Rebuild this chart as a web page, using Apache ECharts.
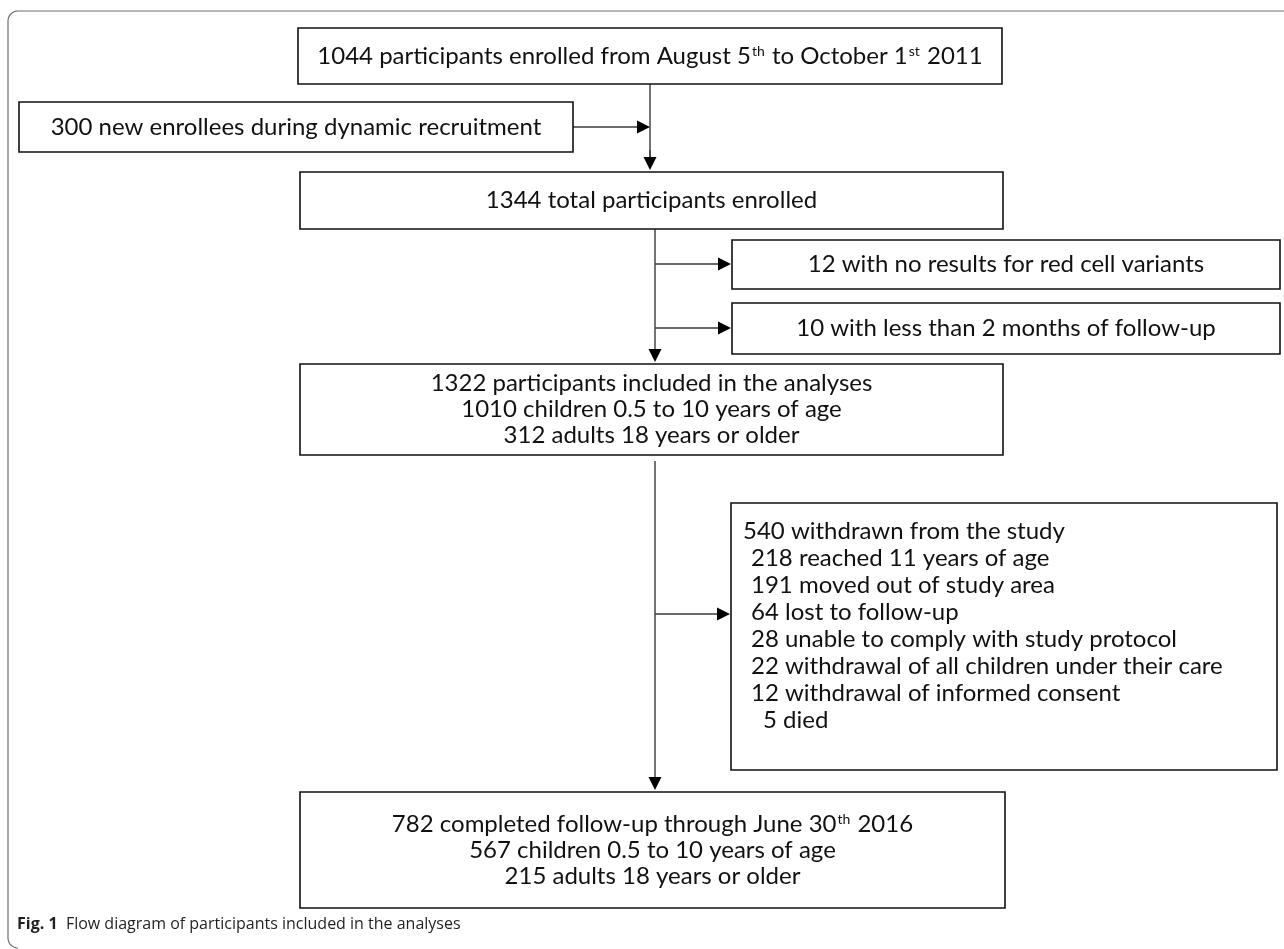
<!DOCTYPE html>
<html>
<head>
<meta charset="utf-8">
<script src="https://cdn.jsdelivr.net/npm/echarts@6/dist/echarts.min.js"></script>
<style>
  html, body { margin: 0; padding: 0; background: #fff; }
  #chart { width: 1284px; height: 949px; }
</style>
</head>
<body>
<div id="chart"></div>
<script>
// ---- texts of the flow diagram ----
var enrolledText = '1044 participants enrolled from August 5{sup|th} to October 1{sup|st} 2011';
var recruitText = '300 new enrollees during dynamic recruitment';
var totalText = '1344 total participants enrolled';
var excludedTexts = [
    '12 with no results for red cell variants',
    '10 with less than 2 months of follow-up'
];
var analysedTexts = [
    '1322 participants included in the analyses',
    '1010 children 0.5 to 10 years of age',
    '312 adults 18 years or older'
];
var withdrawnTexts = [
    '540 withdrawn from the study',
    '218 reached 11 years of age',
    '191 moved out of study area',
    '64 lost to follow-up',
    '28 unable to comply with study protocol',
    '22 withdrawal of all children under their care',
    '12 withdrawal of informed consent',
    '5 died'
];
var completedTexts = [
    '782 completed follow-up through June 30{sup|th} 2016',
    '567 children 0.5 to 10 years of age',
    '215 adults 18 years or older'
];
var captionLabel = 'Fig. 1';
var captionText = 'Flow diagram of participants included in the analyses';

(function() {
    var chart = echarts.init(document.getElementById('chart'), null, { renderer: 'canvas' });

    var FONT = 'Lato, "Open Sans", sans-serif';
    var INK = '#111';
    var LINE = '#3a3a3a';
    var FS = 24;
    var LH = 26;

    // box geometry [x, y, w, h]
    var rect = {
        enrolled: [298, 28, 704, 56],
        recruit: [19, 102, 554, 50],
        total: [300, 172, 703, 57],
        excl1: [732, 240, 548, 49],
        excl2: [732, 303, 548, 51],
        analysed: [300, 364, 703, 91],
        withdrawn: [731, 503, 546, 267],
        completed: [300, 792, 705, 116]
    };
    var withdrawnIndent = [0, 8, 8, 8, 8, 8, 8, 20];

    var els = [];
    var sup = { sup: { fontSize: 14, fontFamily: FONT, fill: INK, verticalAlign: 'top', padding: [0, 1, 10, 1] } };

    function box(r) {
        els.push({
            type: 'rect',
            shape: { x: r[0], y: r[1], width: r[2], height: r[3] },
            style: { fill: '#fff', stroke: INK, lineWidth: 1.6 },
            z: 2
        });
    }
    function centered(r, lines) {
        var cx = r[0] + r[2] / 2, cy = r[1] + r[3] / 2;
        var y0 = cy - (lines.length - 1) * LH / 2;
        lines.forEach(function(t, i) {
            els.push({
                type: 'text', x: cx, y: y0 + i * LH, z: 3,
                style: {
                    text: t, rich: sup, fontSize: FS, fontFamily: FONT, fill: INK,
                    align: 'center', verticalAlign: 'middle'
                }
            });
        });
    }
    function arrow(x1, y1, x2, y2) {
        var dx = x2 - x1, dy = y2 - y1, len = Math.sqrt(dx * dx + dy * dy);
        var ux = dx / len, uy = dy / len, hl = 13, hw = 6.5;
        var bx = x2 - ux * hl, by = y2 - uy * hl;
        els.push({
            type: 'line', z: 1,
            shape: { x1: x1, y1: y1, x2: bx, y2: by },
            style: { stroke: LINE, lineWidth: 1.4 }
        });
        els.push({
            type: 'polygon', z: 1,
            shape: { points: [[x2, y2], [bx - uy * hw, by + ux * hw], [bx + uy * hw, by - ux * hw]] },
            style: { fill: '#000' }
        });
    }

    // outer frame: top and left edges with rounded corners
    var fx = 8, fTop = 11, fBot = 948, fr = 10, framePts = [[1284, fTop]];
    for (var k = 0; k <= 8; k++) {
        var a = -Math.PI / 2 - k * Math.PI / 16;
        framePts.push([fx + fr + fr * Math.cos(a), fTop + fr + fr * Math.sin(a)]);
    }
    for (k = 0; k <= 8; k++) {
        var b = Math.PI + k * Math.PI / 16;
        framePts.push([fx + fr + fr * Math.cos(b), fBot - fr - fr * Math.sin(b)]);
    }
    els.push({
        type: 'polyline', z: 0,
        shape: { points: framePts },
        style: { fill: null, stroke: '#6d6e71', lineWidth: 1.2 }
    });

    box(rect.enrolled); centered(rect.enrolled, [enrolledText]);
    box(rect.recruit); centered(rect.recruit, [recruitText]);
    box(rect.total); centered(rect.total, [totalText]);
    box(rect.excl1); centered(rect.excl1, [excludedTexts[0]]);
    box(rect.excl2); centered(rect.excl2, [excludedTexts[1]]);
    box(rect.analysed); centered(rect.analysed, analysedTexts);
    box(rect.withdrawn);
    box(rect.completed); centered(rect.completed, completedTexts);

    var w = rect.withdrawn;
    var wy0 = w[1] + 28;
    withdrawnTexts.forEach(function(t, i) {
        els.push({
            type: 'text', x: w[0] + 12 + withdrawnIndent[i], y: wy0 + i * 27, z: 3,
            style: { text: t, fontSize: FS, fontFamily: FONT, fill: INK, align: 'left', verticalAlign: 'middle' }
        });
    });

    // connectors
    els.push({ type: 'line', z: 1, shape: { x1: 650, y1: 84, x2: 650, y2: 160 }, style: { stroke: LINE, lineWidth: 1.4 } });
    arrow(650, 150, 650, 170);
    arrow(573, 127, 650, 127);
    arrow(655, 229, 655, 362);
    arrow(655, 264, 731, 264);
    arrow(655, 328, 731, 328);
    arrow(655, 461, 655, 790);
    arrow(655, 614, 730, 614);

    // caption
    els.push({
        type: 'text', x: 17, y: 924, z: 3,
        style: {
            text: '{b|' + captionLabel + '}  ' + captionText,
            fontSize: 16, fontFamily: '"Open Sans", sans-serif', fill: '#231f20',
            align: 'left', verticalAlign: 'middle',
            rich: { b: { fontSize: 16, fontWeight: 'bold', fontFamily: '"Open Sans", sans-serif', fill: '#231f20' } }
        }
    });

    chart.setOption({
        backgroundColor: '#fff',
        animation: false,
        graphic: { elements: els }
    });

    window.addEventListener('resize', function() { chart.resize(); });
})();
</script>
</body>
</html>
